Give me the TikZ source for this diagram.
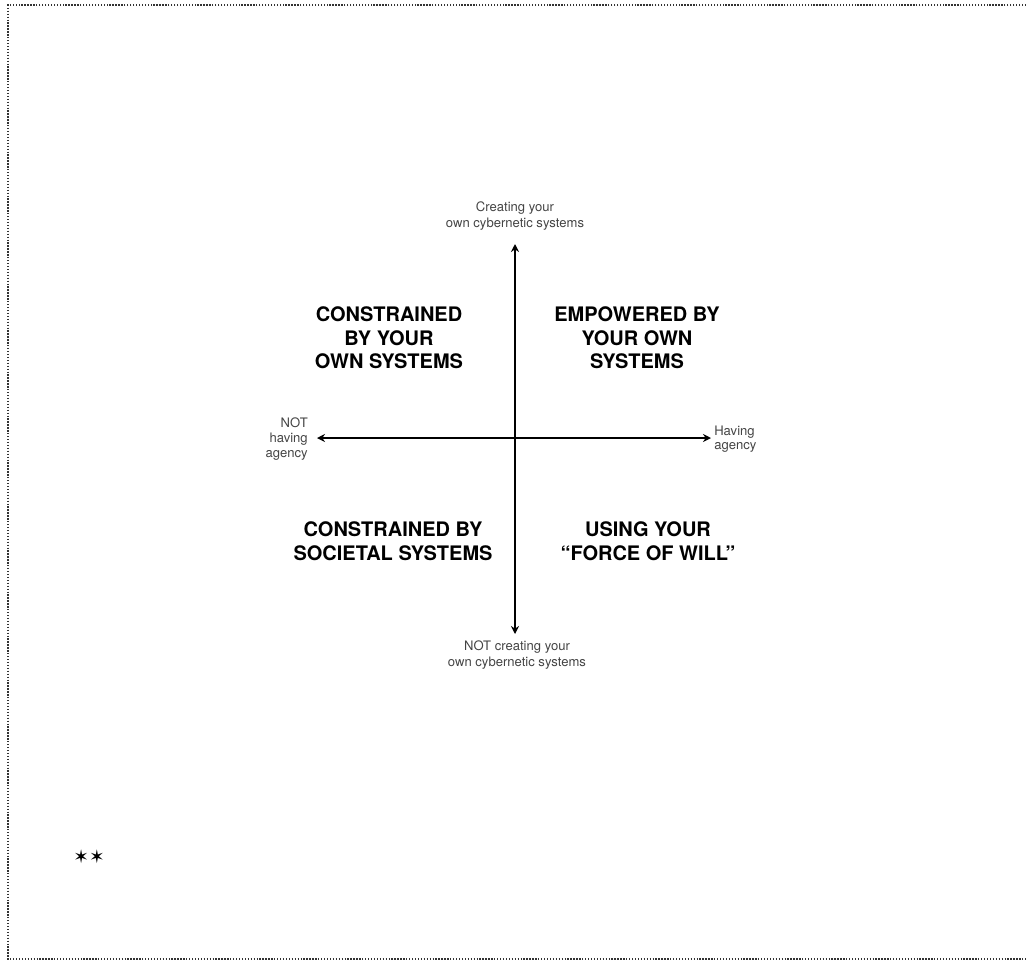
\documentclass[tikz,border=0pt]{standalone}
\usepackage{fontspec}
\setmainfont{TeX Gyre Heros}
\newfontfamily\starfont{DejaVu Sans}
\usetikzlibrary{
    arrows.meta,
    positioning
}
\definecolor{labelgray}{HTML}{444444}
\tikzset{
    every picture/.style = {
        > = Stealth
    },
    quadrant/.style = {
        inner sep = 0pt,
        align = center,
        font = \fontsize{15pt}{17.6pt}\selectfont\bfseries
    },
    axislabel/.style = {
        inner sep = 0pt,
        text = labelgray,
        font = \fontsize{9.8pt}{12.2pt}\selectfont
    },
    sidelabel/.style = {
        axislabel,
        font = \fontsize{9.8pt}{11pt}\selectfont
    },
    axis/.style = {
        line width = 1.4pt,
        {Stealth[length=6pt, width=6pt]}-{Stealth[length=6pt, width=6pt]}
    },
    frame/.style = {
        black!80,
        line width = 0.8pt,
        dash pattern = on 1pt off 1.2pt
    }
}

\begin{document}
\begin{tikzpicture}[x = 0.75pt, y = -0.75pt]

    \useasboundingbox (0, 0) rectangle (1026, 961);
    \draw[frame] (1026, 5) -- (8, 5) -- (8, 959) -- (1026, 959);

    % axis ends
    \coordinate (ytop) at (515, 244);
    \coordinate (ybot) at (515, 634);
    \coordinate (xleft) at (317, 438);
    \coordinate (xright) at (711, 438);

    \draw[axis] (ybot) -- (ytop);
    \draw[axis] (xleft) -- (xright);

    \node[axislabel, align = center, anchor = south] (create) at (515, 231) {Creating your\\own cybernetic systems};
    \node[axislabel, align = center, anchor = north] (nocreate) at (517, 640) {NOT creating your\\own cybernetic systems};
    \node[sidelabel, align = right, anchor = east] (noagency) at (308, 439) {NOT\\having\\agency};
    \node[sidelabel, align = left, anchor = west] (agency) at (714, 439) {Having\\agency};

    \node[quadrant] (ownsys) at (389, 338) {CONSTRAINED\\BY YOUR\\OWN SYSTEMS};
    \node[quadrant] (empowered) at (637, 338) {EMPOWERED BY\\YOUR OWN\\SYSTEMS};
    \node[quadrant] (societal) at (393, 541) {CONSTRAINED BY\\SOCIETAL SYSTEMS};
    \node[quadrant] (will) at (648, 541) {USING YOUR\\``FORCE OF WILL''};

    \node[inner sep = 0pt, font = \starfont\fontsize{14pt}{15pt}\selectfont] (stars) at (89, 857) {✶✶};
\end{tikzpicture}
\end{document}
